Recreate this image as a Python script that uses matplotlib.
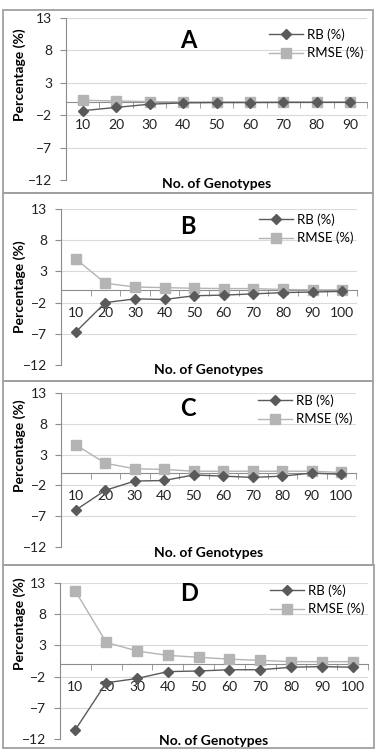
import matplotlib.pyplot as plt
from matplotlib.patches import Rectangle

plt.rcParams['font.family'] = ['Lato', 'DejaVu Sans']

# number of genotypes on the category axis
genotypes_a = [10, 20, 30, 40, 50, 60, 70, 80, 90]
genotypes_bcd = [10, 20, 30, 40, 50, 60, 70, 80, 90, 100]

# relative bias and RMSE (%)
rb_a = [-1.3, -0.8, -0.3, -0.1, -0.05, -0.05, -0.03, -0.02, -0.02]
rmse_a = [0.3, 0.2, 0.1, 0.05, 0.05, 0.04, 0.03, 0.03, 0.03]

rb_b = [-6.7, -2.0, -1.4, -1.5, -0.9, -0.8, -0.6, -0.4, -0.3, -0.2]
rmse_b = [5.0, 1.1, 0.5, 0.4, 0.3, 0.25, 0.25, 0.1, 0.05, 0.05]

rb_c = [-6.0, -2.8, -1.3, -1.2, -0.3, -0.5, -0.7, -0.5, 0.0, -0.2]
rmse_c = [4.6, 1.6, 0.7, 0.6, 0.3, 0.3, 0.3, 0.3, 0.3, 0.1]

rb_d = [-10.5, -3.0, -2.3, -1.2, -1.1, -0.9, -0.9, -0.5, -0.4, -0.5]
rmse_d = [11.7, 3.5, 2.1, 1.4, 1.1, 0.8, 0.6, 0.4, 0.4, 0.4]

yticks = [-12, -7, -2, 3, 8, 13]

W, H = 384, 749
fig = plt.figure(figsize=(W / 100, H / 100), dpi=100)

# pixel layout per panel:
# axes (left, right, top, bottom), border box (x0, y0, x1, y1), letter pos (axes frac),
# legend top offset (px), ylabel centre (axes frac), xlabel offset below axes (px)
panels = [
    ('A', genotypes_a, rb_a, rmse_a, (66, 367, 18, 180), (3, 10, 373, 193), (0.405, 0.86), 1, 0.65, 4),
    ('B', genotypes_bcd, rb_b, rmse_b, (61, 357, 209, 365), (3, 193, 373, 381), (0.43, 0.89), -5, 0.5, 5),
    ('C', genotypes_bcd, rb_c, rmse_c, (61, 356, 393, 547), (3, 381, 373, 565), (0.43, 0.9), -8, 0.66, 6),
    ('D', genotypes_bcd, rb_d, rmse_d, (60, 368, 583, 739), (3, 565, 374, 748), (0.42, 0.93), -8, 0.74, 2),
]

axis_col = '#8c8c8c'
for letter, cats, rb, rmse, (l, r, t, b), (bx0, by0, bx1, by1), (lx, ly), leg_off, ylab_y, xlab_off in panels:
    fig.patches.append(Rectangle((bx0 / W, 1 - by1 / H), (bx1 - bx0) / W, (by1 - by0) / H,
                                 transform=fig.transFigure, fill=False,
                                 edgecolor='#a0a0a0', linewidth=1.3))
    ax = fig.add_axes([l / W, 1 - b / H, (r - l) / W, (b - t) / H])
    pos = list(range(len(cats)))
    ax.plot(pos, rb, '-', color='#5a5a5a', marker='D', markersize=5, lw=1.0,
            label='RB (%)', zorder=4)
    ax.plot(pos, rmse, '-', color='#b4b4b4', marker='s', markersize=7, lw=1.0,
            label='RMSE (%)', zorder=3)

    ax.set_xlim(-0.5, len(cats) - 0.5)
    ax.set_ylim(-12, 13)
    ax.set_yticks(yticks)
    ax.grid(axis='y', color='#dadada', lw=0.8)
    ax.set_axisbelow(True)

    ax.spines['top'].set_visible(False)
    ax.spines['right'].set_visible(False)
    ax.spines['left'].set_color(axis_col)
    ax.spines['bottom'].set_color(axis_col)
    ax.spines['bottom'].set_position(('data', 0))

    ax.set_xticks(pos)
    ax.set_xticklabels([str(c) for c in cats])
    ax.set_xticks([p - 0.5 for p in pos] + [len(cats) - 0.5], minor=True)
    ax.tick_params(axis='x', which='major', length=0, pad=12, labelsize=10, colors='#222222')
    ax.tick_params(axis='x', which='minor', length=4, direction='out', color=axis_col)
    ax.tick_params(axis='y', length=4, color=axis_col, labelsize=10, pad=6, labelcolor='#222222')

    ax.set_xlabel('No. of Genotypes', fontweight='bold', fontsize=10, va='center')
    ax.xaxis.set_label_coords(0.5, -xlab_off / (b - t))
    ax.set_ylabel('Percentage (%)', fontweight='bold', fontsize=10)
    ax.yaxis.set_label_coords((26 - l) / (r - l), ylab_y)

    ax.text(lx, ly, letter, transform=ax.transAxes, fontsize=17, fontweight='bold',
            ha='center', va='center')
    ax.legend(loc='upper right', bbox_to_anchor=(1.02, 1.0 - leg_off / (b - t)), frameon=False,
              fontsize=9.5, handlelength=2.6, handletextpad=0.3, labelspacing=0.45,
              borderpad=0.2)

fig.savefig('out.png', dpi=100)
